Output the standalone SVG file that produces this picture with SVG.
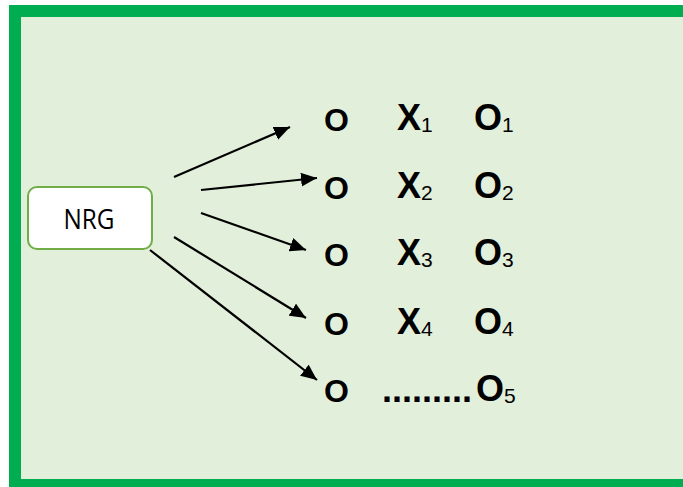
<svg xmlns="http://www.w3.org/2000/svg" width="683" height="487" viewBox="0 0 683 487">
  <defs>
    <marker id="ah" viewBox="0 0 16 14" refX="16" refY="7" markerWidth="16" markerHeight="14" markerUnits="userSpaceOnUse" orient="auto">
      <path d="M0,0 L16,7 L0,14 Z" fill="#000"/>
    </marker>
    <style>
      .conn { stroke:#000; stroke-width:2.2; fill:none; marker-end:url(#ah); }
      .t { font-family:"Liberation Sans", Arial, sans-serif; fill:#000; font-weight:bold; }
      .c1 { font-size:32px; }
      .c2 { font-size:36px; }
      .sub { font-size:21px; font-weight:normal; }
    </style>
  </defs>
  <rect x="0" y="0" width="683" height="487" fill="#ffffff"/>
  <rect id="frame" x="15" y="11" width="690" height="474" fill="#E2EFDA" stroke="#00AD50" stroke-width="12"/>

  <g id="nrg">
    <rect x="28" y="187" width="124" height="62" rx="9" ry="9" fill="#ffffff" stroke="#70AD47" stroke-width="2"/>
    <text x="89" y="229" text-anchor="middle" font-family="'Open Sans', 'Liberation Sans', sans-serif" font-size="27" textLength="51" lengthAdjust="spacingAndGlyphs" fill="#000">NRG</text>
  </g>

  <g id="connectors">
    <line class="conn" x1="174" y1="177" x2="290" y2="127"/>
    <line class="conn" x1="201" y1="190" x2="317" y2="178"/>
    <line class="conn" x1="201" y1="213" x2="306" y2="250"/>
    <line class="conn" x1="174" y1="237" x2="306" y2="318"/>
    <line class="conn" x1="150" y1="250" x2="317" y2="380"/>
  </g>

  <g id="row1">
    <text class="t c1" x="324" y="131">O</text>
    <text class="t c2" x="397" y="130">X<tspan class="sub" dy="2">1</tspan></text>
    <text class="t c2" x="474" y="130">O<tspan class="sub" dy="2">1</tspan></text>
  </g>
  <g id="row2">
    <text class="t c1" x="324" y="199">O</text>
    <text class="t c2" x="397" y="198">X<tspan class="sub" dy="2">2</tspan></text>
    <text class="t c2" x="474" y="198">O<tspan class="sub" dy="2">2</tspan></text>
  </g>
  <g id="row3">
    <text class="t c1" x="324" y="266">O</text>
    <text class="t c2" x="397" y="265">X<tspan class="sub" dy="2">3</tspan></text>
    <text class="t c2" x="474" y="265">O<tspan class="sub" dy="2">3</tspan></text>
  </g>
  <g id="row4">
    <text class="t c1" x="324" y="335">O</text>
    <text class="t c2" x="397" y="334">X<tspan class="sub" dy="2">4</tspan></text>
    <text class="t c2" x="474" y="334">O<tspan class="sub" dy="2">4</tspan></text>
  </g>
  <g id="row5">
    <text class="t c1" x="324" y="402">O</text>
    <text class="t c2" x="382" y="402" textLength="90" lengthAdjust="spacing">.........</text>
    <text class="t c2" x="476" y="401">O<tspan class="sub" dy="2">5</tspan></text>
  </g>
</svg>
